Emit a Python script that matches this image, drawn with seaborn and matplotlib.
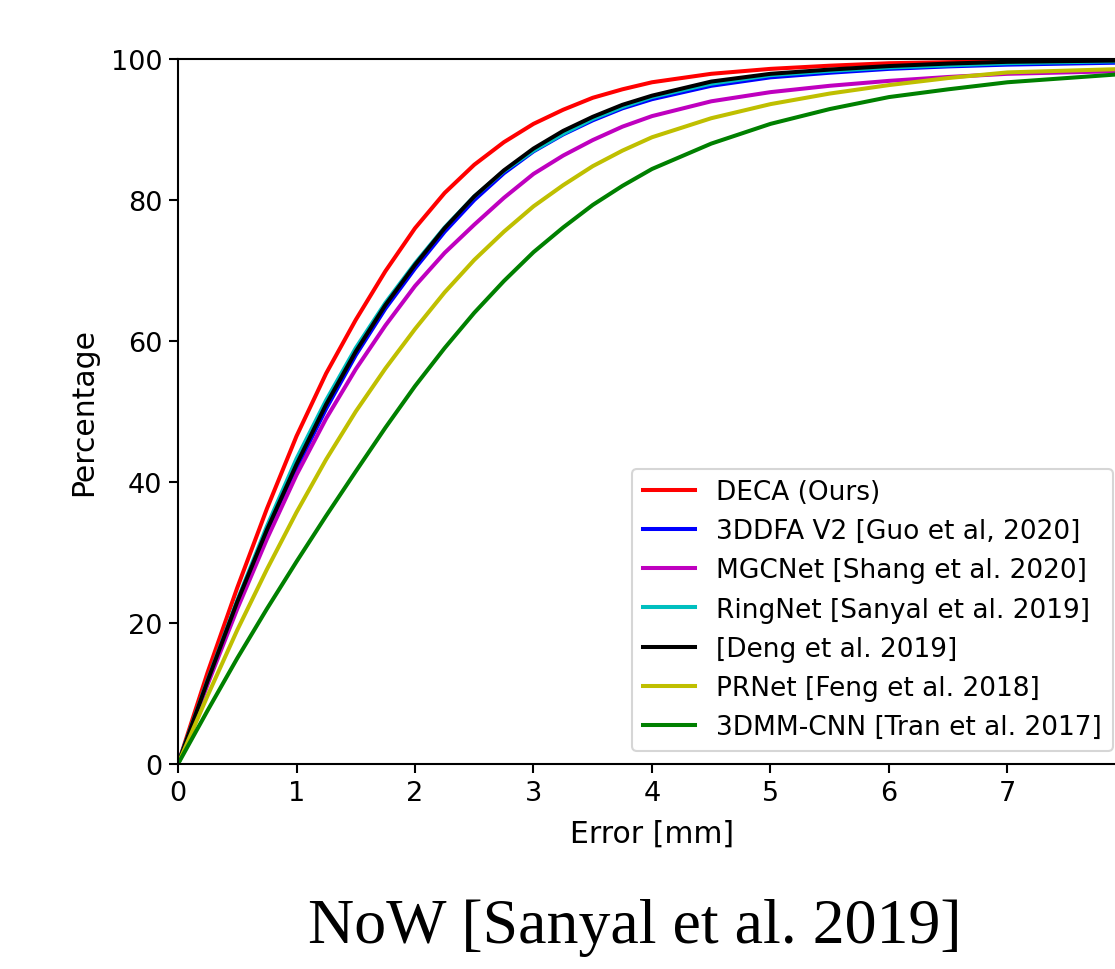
import matplotlib
matplotlib.use("Agg")
import matplotlib.pyplot as plt
import seaborn as sns
import pandas as pd

# Data (cumulative error curves)
error_mm = [0, 0.25, 0.5, 0.75, 1, 1.25, 1.5, 1.75, 2, 2.25, 2.5, 2.75, 3,
            3.25, 3.5, 3.75, 4, 4.5, 5, 5.5, 6, 6.5, 7, 7.5, 8]
deca    = [0, 13.0, 25.0, 36.2, 46.5, 55.4, 63.0, 69.9, 76.0, 81.0, 85.0, 88.2, 90.8,
           92.8, 94.5, 95.7, 96.7, 97.9, 98.6, 99.05, 99.4, 99.55, 99.7, 99.8, 99.9]
tddfa   = [0, 11.6, 22.6, 32.7, 42.0, 50.4, 58.0, 64.6, 70.3, 75.5, 80.0, 83.8, 86.9,
           89.3, 91.3, 93.0, 94.3, 96.2, 97.4, 98.05, 98.6, 98.95, 99.2, 99.35, 99.5]
mgcnet  = [0, 11.3, 22.0, 31.9, 41.0, 49.0, 56.0, 62.2, 67.8, 72.5, 76.5, 80.3, 83.7,
           86.3, 88.5, 90.4, 91.9, 94.0, 95.3, 96.2, 96.9, 97.45, 97.9, 98.1, 98.3]
ringnet = [0, 11.9, 23.2, 33.7, 43.3, 51.6, 59.0, 65.4, 71.0, 76.1, 80.5, 84.1, 87.0,
           89.4, 91.5, 93.2, 94.6, 96.5, 97.7, 98.3, 98.8, 99.1, 99.4, 99.55, 99.7]
deng    = [0, 11.8, 23.0, 33.2, 42.5, 51.0, 58.5, 65.1, 70.8, 76.0, 80.5, 84.2, 87.3,
           89.8, 91.8, 93.5, 94.8, 96.8, 97.9, 98.5, 99.0, 99.35, 99.6, 99.7, 99.8]
prnet   = [0, 9.7, 19.0, 27.6, 35.7, 43.2, 50.0, 56.1, 61.7, 66.9, 71.5, 75.5, 79.1,
           82.1, 84.8, 87.0, 88.9, 91.6, 93.6, 95.1, 96.3, 97.3, 98.1, 98.35, 98.6]
tdmmcnn = [0, 7.6, 15.0, 22.0, 28.7, 35.2, 41.5, 47.7, 53.6, 59.0, 64.0, 68.5, 72.6,
           76.1, 79.3, 82.0, 84.4, 88.0, 90.8, 92.9, 94.6, 95.7, 96.7, 97.3, 97.9]

methods = ["DECA (Ours)", "3DDFA V2 [Guo et al, 2020]", "MGCNet [Shang et al. 2020]",
           "RingNet [Sanyal et al. 2019]", "[Deng et al. 2019]",
           "PRNet [Feng et al. 2018]", "3DMM-CNN [Tran et al. 2017]"]
series = [deca, tddfa, mgcnet, ringnet, deng, prnet, tdmmcnn]
colors = ["r", "b", "m", "c", "k", "y", "g"]

x_ticks = [0, 1, 2, 3, 4, 5, 6, 7]
y_ticks = [0, 20, 40, 60, 80, 100]
caption = "NoW [Sanyal et al. 2019]"

rows = []
for m, vals in zip(methods, series):
    for x, v in zip(error_mm, vals):
        rows.append({"Error [mm]": x, "Percentage": v, "Method": m})
df = pd.DataFrame(rows)

fig = plt.figure(figsize=(11.15, 9.7), dpi=100)
ax = fig.add_axes([178 / 1115, 1 - 765 / 970, 948 / 1115, 705 / 970])

sns.lineplot(data=df, x="Error [mm]", y="Percentage", hue="Method",
             hue_order=methods, palette=dict(zip(methods, colors)),
             estimator=None, sort=False, linewidth=2.9, ax=ax)

ax.set_xlim(0, 8)
ax.set_ylim(0, 100)
ax.set_xticks(x_ticks)
ax.set_yticks(y_ticks)
ax.tick_params(labelsize=19.5, length=6.5, width=1.5, pad=5)
for s in ax.spines.values():
    s.set_linewidth(1.5)
ax.set_xlabel("Error [mm]", fontsize=21.5, labelpad=9)
ax.set_ylabel("Percentage", fontsize=21.5, labelpad=9)

leg = ax.legend(loc="lower right", fontsize=19, handlelength=2.0,
                labelspacing=0.5)
for line in leg.get_lines():
    line.set_linewidth(2.9)
leg.get_frame().set_linewidth(1.5)

fig.text(635 / 1115, 1 - 928 / 970, caption, ha="center", va="center",
         fontsize=46, family="Liberation Serif")

fig.savefig("out.png", dpi=100)
